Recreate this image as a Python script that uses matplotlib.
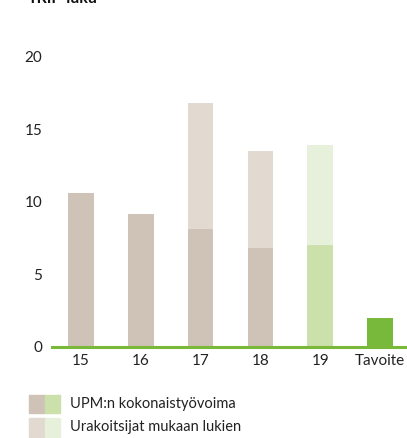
"""
TRIF-luku: UPM:n kokonaistyövoima vs. urakoitsijat mukaan lukien.
"""

import matplotlib

matplotlib.use("Agg")
import matplotlib.pyplot as plt
from matplotlib.patches import Rectangle

plt.rcParams["font.family"] = ["Lato", "DejaVu Sans"]

# --- Data ---
kategoriat = ["15", "16", "17", "18", "19", "Tavoite"]
kokonais = [10.6, 9.2, 8.1, 6.8, 7.0, 2.0]          # UPM:n kokonaistyövoima
urakoitsijat = [10.6, 9.2, 16.8, 13.5, 13.9, 2.0]   # urakoitsijat mukaan lukien

# Värit
RUSKEA = "#cfc2b6"
RUSKEA_VAALEA = "#e2d9d0"
VIHREA = "#cce0ab"
VIHREA_VAALEA = "#e6f0da"
TAVOITE = "#78b83a"
AKSELI = "#7ab83a"


def main():
    fig = plt.figure(figsize=(4.07, 4.38), dpi=100)
    ax = fig.add_axes([0.128, 0.208, 0.872, 0.662])

    x = list(range(len(kategoriat)))
    leveys = 0.43
    for i, kat in enumerate(kategoriat):
        if kat == "Tavoite":
            ax.bar(i, kokonais[i], width=leveys, color=TAVOITE, zorder=2)
            continue
        vihrea = kat == "19"
        ax.bar(i, urakoitsijat[i], width=leveys,
               color=VIHREA_VAALEA if vihrea else RUSKEA_VAALEA, zorder=1)
        ax.bar(i, kokonais[i], width=leveys,
               color=VIHREA if vihrea else RUSKEA, zorder=2)

    ax.set_xlim(-0.48, len(kategoriat) - 0.55)
    ax.set_ylim(0, 20)
    ax.set_yticks([0, 5, 10, 15, 20])
    ax.set_xticks(x)
    ax.set_xticklabels(kategoriat)

    for side in ["top", "right", "left"]:
        ax.spines[side].set_visible(False)
    ax.spines["bottom"].set_color(AKSELI)
    ax.spines["bottom"].set_linewidth(2.2)
    ax.spines["bottom"].set_zorder(3)
    ax.tick_params(axis="both", length=0, labelsize=11, colors="#222222")
    ax.tick_params(axis="x", pad=5)
    ax.tick_params(axis="y", pad=7)

    # Otsikko (leikkautuu yläreunasta kuten alkuperäisessä)
    fig.text(0.068, 1.002, "TRIF-luku", fontsize=11.5, fontweight="bold",
             va="center", ha="left", color="#111111")

    # Selite
    rivit = [("UPM:n kokonaistyövoima", RUSKEA, VIHREA, 0.057),
             ("Urakoitsijat mukaan lukien", RUSKEA_VAALEA, VIHREA_VAALEA, 0.003)]
    for teksti, c1, c2, y in rivit:
        fig.patches.append(Rectangle((0.071, y), 0.039, 0.042, color=c1,
                                     transform=fig.transFigure, figure=fig))
        fig.patches.append(Rectangle((0.110, y), 0.037, 0.042, color=c2,
                                     transform=fig.transFigure, figure=fig))
        fig.text(0.172, y + 0.021, teksti, fontsize=10.5, va="center",
                 ha="left", color="#222222")

    fig.savefig("out.png", dpi=100)


if __name__ == "__main__":
    main()
